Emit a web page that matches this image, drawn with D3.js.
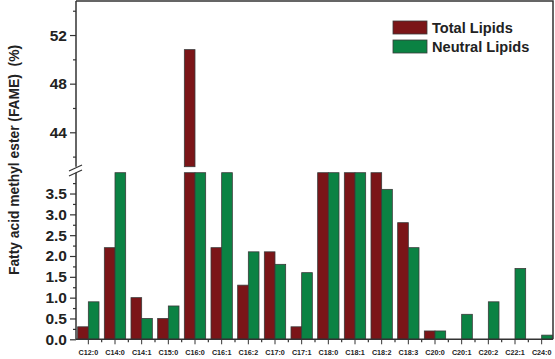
<!DOCTYPE html>
<html>
<head>
<meta charset="utf-8">
<script src="https://cdn.jsdelivr.net/npm/d3@7"></script>
<style>
  body { margin: 0; background: #fff; }
  svg { display: block; font-family: "Liberation Sans", Arial, sans-serif; }
  .axis text { font-weight: bold; fill: #222; }
  .axis path, .axis line { stroke: #333; }
</style>
</head>
<body>
<div id="chart"></div>
<script>
// categories and values (bars above 4 in the lower panel are cut off there)
const categories = ["C12:0","C14:0","C14:1","C15:0","C16:0","C16:1","C16:2","C17:0","C17:1",
                    "C18:0","C18:1","C18:2","C18:3","C20:0","C20:1","C20:2","C22:1","C24:0"];
const totalLipids   = [0.3, 2.2, 1.0, 0.5, 50.8, 2.2, 1.3, 2.1, 0.3, 9.5, 20.5, 6.8, 2.8, 0.2, 0, 0, 0, 0];
const neutralLipids = [0.9, 5.2, 0.5, 0.8, 36.0, 6.3, 2.1, 1.8, 1.6, 10.2, 27.5, 3.6, 2.2, 0.2, 0.6, 0.9, 1.7, 0.1];
const seriesNames = ["Total Lipids", "Neutral Lipids"];
const lowerTicks = [0, 0.5, 1.0, 1.5, 2.0, 2.5, 3.0, 3.5];
const lowerMinor = [0.25, 0.75, 1.25, 1.75, 2.25, 2.75, 3.25, 3.75];
const upperTicks = [44, 48, 52];
const upperMinor = [42, 46, 50, 54];

const colors = {"Total Lipids": "#7b1518", "Neutral Lipids": "#0b8243"};

{
  const width = 555, height = 359;
  const pLeft = 76, pRight = 553, pTop = 1, pBottom = 339.3;
  const lowTop = 172.7, upBottom = 166.7;

  const svg = d3.select("#chart").append("svg")
      .attr("width", width)
      .attr("height", height);

  // scales
  const x = d3.scaleBand().domain(categories).range([75, 555]).padding(0);
  const xSub = d3.scaleBand().domain(seriesNames)
      .range([x.bandwidth() * 0.1, x.bandwidth() * 0.9]);
  const yLow = d3.scaleLinear().domain([0, 4]).range([pBottom, lowTop]).clamp(true);
  const yUp = d3.scaleLinear().domain([41.17, 54.8]).range([upBottom, pTop]).clamp(true);

  const rows = categories.map((c, i) => ({c, "Total Lipids": totalLipids[i], "Neutral Lipids": neutralLipids[i]}));

  // bars, lower panel
  const groups = svg.append("g").selectAll("g")
    .data(rows)
    .join("g")
      .attr("transform", d => `translate(${x(d.c)},0)`);

  groups.selectAll("rect.low")
    .data(d => seriesNames.map(s => ({s, v: d[s]})).filter(e => e.v > 0))
    .join("rect")
      .attr("class", "low")
      .attr("x", e => xSub(e.s))
      .attr("y", e => yLow(e.v))
      .attr("width", xSub.bandwidth())
      .attr("height", e => yLow(0) - yLow(e.v))
      .attr("fill", e => colors[e.s])
      .attr("stroke", "#3a3a3a")
      .attr("stroke-width", 0.8);

  // bars, upper panel
  groups.selectAll("rect.up")
    .data(d => seriesNames.map(s => ({s, v: d[s]})).filter(e => e.v > yUp.domain()[0]))
    .join("rect")
      .attr("class", "up")
      .attr("x", e => xSub(e.s))
      .attr("y", e => yUp(e.v))
      .attr("width", xSub.bandwidth())
      .attr("height", e => yUp.range()[0] - yUp(e.v))
      .attr("fill", e => colors[e.s])
      .attr("stroke", "#3a3a3a")
      .attr("stroke-width", 0.8);

  // frame: top and right
  svg.append("path")
      .attr("d", `M${pLeft},${pTop}H${pRight}V${pBottom}`)
      .attr("fill", "none")
      .attr("stroke", "#333")
      .attr("stroke-width", 1.5);

  // left axis, lower panel
  const gLow = svg.append("g").attr("class", "axis")
      .attr("transform", `translate(${pLeft},0)`)
      .call(d3.axisLeft(yLow).tickValues(lowerTicks).tickFormat(d3.format(".1f")).tickSize(6).tickPadding(3));
  svg.append("g").attr("class", "axis")
      .attr("transform", `translate(${pLeft},0)`)
      .call(d3.axisLeft(yLow).tickValues(lowerMinor).tickFormat("").tickSize(3))
      .select(".domain").remove();
  gLow.select(".domain").attr("d", `M0,${lowTop}V${pBottom}`);

  // left axis, upper panel
  const gUp = svg.append("g").attr("class", "axis")
      .attr("transform", `translate(${pLeft},0)`)
      .call(d3.axisLeft(yUp).tickValues(upperTicks).tickSize(6).tickPadding(3));
  svg.append("g").attr("class", "axis")
      .attr("transform", `translate(${pLeft},0)`)
      .call(d3.axisLeft(yUp).tickValues(upperMinor).tickFormat("").tickSize(3))
      .select(".domain").remove();
  gUp.select(".domain").attr("d", `M0,${pTop}V${upBottom}`);

  svg.selectAll(".axis .domain").attr("stroke-width", 1.5);
  svg.selectAll(".axis line").attr("stroke-width", 1.2);
  svg.selectAll(".axis text").style("font-size", "15.5px");

  // break marks
  [0, 5].forEach(off => {
    svg.append("line")
        .attr("x1", pLeft - 7).attr("y1", 171 + off)
        .attr("x2", pLeft + 6).attr("y2", 165 + off)
        .attr("stroke", "#333").attr("stroke-width", 1.2);
  });

  // bottom axis
  const gx = svg.append("g").attr("class", "axis")
      .attr("transform", `translate(0,${pBottom})`)
      .call(d3.axisBottom(x).tickSize(5).tickPadding(6).tickSizeOuter(0));
  gx.select(".domain").attr("d", `M${pLeft},0H${pRight}`).attr("stroke-width", 1.5);
  gx.selectAll("text").style("font-size", "7.2px");
  gx.selectAll(".minor")
    .data(categories.slice(1))
    .join("line")
      .attr("class", "minor")
      .attr("x1", d => x(d)).attr("x2", d => x(d))
      .attr("y1", 0).attr("y2", 3)
      .attr("stroke", "#333").attr("stroke-width", 1.2);

  // y title
  svg.append("text")
      .attr("transform", "translate(19,160) rotate(-90)")
      .attr("text-anchor", "middle")
      .style("font-weight", "bold")
      .style("font-size", "13.8px")
      .style("white-space", "pre")
      .attr("fill", "#222")
      .text("Fatty acid methyl ester (FAME)  (%)");

  // legend
  const legend = svg.append("g").attr("transform", "translate(393,21)");
  seriesNames.forEach((s, i) => {
    legend.append("rect")
        .attr("x", 0).attr("y", i * 19)
        .attr("width", 34).attr("height", 13)
        .attr("fill", colors[s])
        .attr("stroke", "#3a3a3a").attr("stroke-width", 0.8);
    legend.append("text")
        .attr("x", 39).attr("y", i * 19 + 12)
        .style("font-weight", "bold")
        .style("font-size", "14.6px")
        .attr("fill", "#222")
        .text(s);
  });
}
</script>
</body>
</html>
